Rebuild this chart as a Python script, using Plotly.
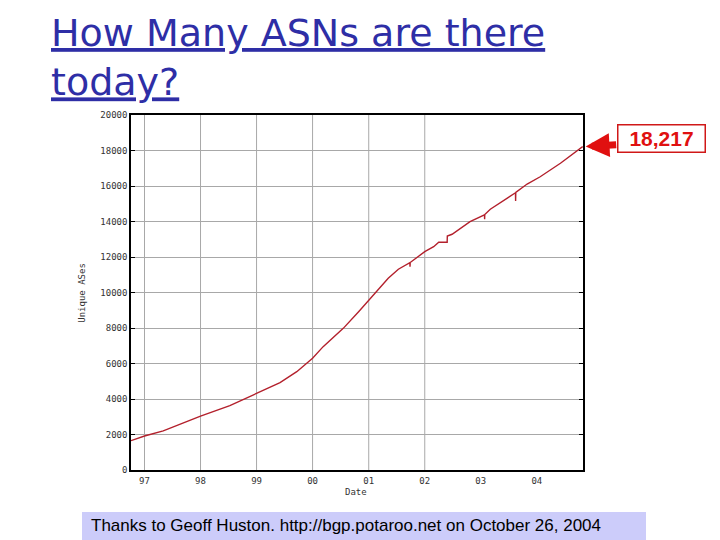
import plotly.graph_objects as go

# ---- data ----
dates = ["1996-10-05", "1997-01-01", "1997-05-03", "1998-01-01", "1998-07-11",
         "1999-01-01", "1999-06-03", "1999-09-20", "1999-11-23", "2000-01-01",
         "2000-03-10", "2000-07-19", "2000-10-27", "2001-01-01", "2001-02-25",
         "2001-05-08", "2001-07-13", "2001-09-26", "2001-09-27", "2001-09-28",
         "2002-01-01", "2002-02-28", "2002-04-02", "2002-05-27", "2002-05-28",
         "2002-06-28", "2002-10-23", "2003-01-25", "2003-01-26", "2003-01-27",
         "2003-03-04", "2003-08-15", "2003-08-16", "2003-08-17", "2003-10-30",
         "2004-01-23", "2004-06-03", "2004-09-20", "2004-10-26"]
unique_ases = [1650, 1915, 2200, 3040, 3625,
               4320, 4920, 5540, 6000, 6300,
               6950, 7980, 8920, 9580, 10140,
               10800, 11310, 11680, 11450, 11690,
               12300, 12580, 12830, 12830, 13180,
               13280, 13990, 14370, 14130, 14390,
               14690, 15620, 15150, 15640, 16110,
               16520, 17280, 17990, 18217]

x_tick_dates = ["1997-01-01", "1998-01-01", "1999-01-01", "2000-01-01",
                "2001-01-01", "2002-01-01", "2003-01-01", "2004-01-01"]
x_tick_labels = ["97", "98", "99", "00", "01", "02", "03", "04"]
x_grid_dates = x_tick_dates[:6]
y_tick_vals = [0, 2000, 4000, 6000, 8000, 10000, 12000, 14000, 16000, 18000, 20000]
y_tick_labels = [str(v) for v in y_tick_vals]
final_label = "18,217"

line_color = "#b3202c"
grid_color = "#a8a8a8"
red = "#e01010"

fig = go.Figure()
fig.add_trace(go.Scatter(x=dates, y=unique_ases, mode="lines",
                         line=dict(color=line_color, width=1.4),
                         showlegend=False, hoverinfo="skip"))

shapes = []
for d in x_grid_dates:
    shapes.append(dict(type="line", xref="x", yref="paper", x0=d, x1=d, y0=0, y1=1,
                       line=dict(color=grid_color, width=1), layer="below"))
# footer band
shapes.append(dict(type="rect", xref="paper", yref="paper",
                   x0=-0.1084, x1=1.1394, y0=-0.22, y1=-0.1183,
                   fillcolor="#ccccfa", line=dict(width=0), layer="below"))

tick_font = dict(family="DejaVu Sans Mono", size=9, color="#333333")

fig.update_layout(
    width=720, height=540, autosize=False,
    margin=dict(l=123, r=145, t=107, b=78),
    paper_bgcolor="white", plot_bgcolor="white",
    shapes=shapes,
    xaxis=dict(type="date", range=["1996-10-05", "2004-10-28"],
               tickvals=x_tick_dates, ticktext=x_tick_labels,
               showgrid=False, zeroline=False, ticks="",
               showline=True, linecolor="black", linewidth=1.5, mirror=True,
               tickfont=tick_font, ticklabelstandoff=1),
    yaxis=dict(range=[0, 20000], tickvals=y_tick_vals, ticktext=y_tick_labels,
               showgrid=True, gridcolor=grid_color, gridwidth=1, zeroline=False,
               ticks="inside", ticklen=4, tickcolor="black",
               showline=True, linecolor="black", linewidth=1.5, mirror="ticks",
               tickfont=tick_font),
    annotations=[
        dict(xref="paper", yref="paper", x=-0.181, y=1.30, xanchor="left", yanchor="top",
             text="<u>How Many ASNs are there</u><br><u>today?</u>", align="left",
             showarrow=False,
             font=dict(family="DejaVu Sans", size=38, color="#2e2ea6")),
        dict(xref="paper", yref="paper", x=-0.11, y=0.5, xanchor="center", yanchor="middle",
             text="Unique ASes", textangle=-90, showarrow=False,
             font=dict(family="DejaVu Sans Mono", size=9, color="#333333")),
        dict(xref="paper", yref="paper", x=0.497, y=-0.062, xanchor="center", yanchor="middle",
             text="Date", showarrow=False,
             font=dict(family="DejaVu Sans Mono", size=9, color="#333333")),
        dict(x=dates[-1], y=unique_ases[-1], xref="x", yref="y", text="",
             showarrow=True, ax=35, ay=-2, axref="pixel", ayref="pixel",
             arrowhead=2, arrowsize=0.68, arrowwidth=7, arrowcolor=red, standoff=3),
        dict(xref="paper", yref="paper", x=1.1726, y=0.9352, xanchor="center", yanchor="middle",
             text="<b>" + final_label + "</b>", showarrow=False,
             width=84, height=24, borderpad=1,
             bordercolor="#d01818", borderwidth=1.5, bgcolor="white",
             font=dict(family="Liberation Sans", size=21, color=red)),
        dict(xref="paper", yref="paper", x=-0.093, y=-0.1577, xanchor="left", yanchor="middle",
             text="Thanks to Geoff Huston. http://bgp.potaroo.net on October 26, 2004",
             showarrow=False,
             font=dict(family="Liberation Sans", size=17, color="black")),
    ],
)

fig.write_html("out.html")
